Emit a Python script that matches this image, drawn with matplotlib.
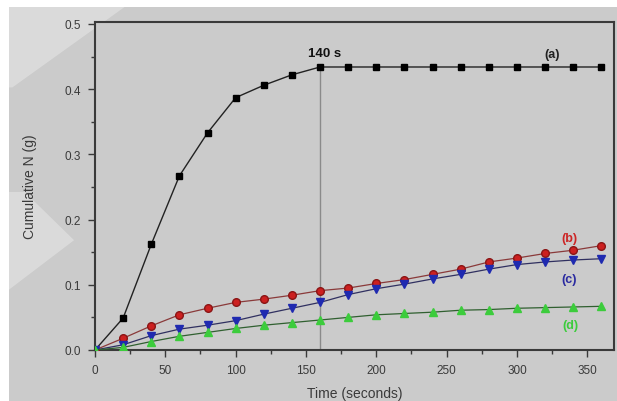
import numpy as np
import matplotlib
matplotlib.use('Agg')
import matplotlib.pyplot as plt
from matplotlib.patches import Polygon, Rectangle

plt.rcParams['font.family'] = ['Liberation Sans', 'DejaVu Sans']

# --- Data ---
time_s = [0, 20, 40, 60, 80, 100, 120, 140, 160, 180, 200, 220, 240, 260, 280, 300, 320, 340, 360]
series_a = [0.000, 0.049, 0.162, 0.267, 0.333, 0.387, 0.406, 0.422, 0.434, 0.434, 0.434, 0.434,
            0.434, 0.434, 0.434, 0.434, 0.434, 0.434, 0.434]
series_b = [0.000, 0.018, 0.037, 0.054, 0.064, 0.073, 0.078, 0.084, 0.091, 0.095, 0.102, 0.108,
            0.116, 0.124, 0.135, 0.141, 0.148, 0.153, 0.160]
series_c = [0.000, 0.008, 0.022, 0.032, 0.038, 0.045, 0.055, 0.064, 0.073, 0.085, 0.094, 0.101,
            0.109, 0.116, 0.124, 0.131, 0.135, 0.138, 0.140]
series_d = [0.000, 0.004, 0.013, 0.021, 0.027, 0.033, 0.038, 0.042, 0.046, 0.050, 0.054, 0.056,
            0.058, 0.061, 0.062, 0.064, 0.065, 0.066, 0.067]
series_labels = ['(a)', '(b)', '(c)', '(d)']
label_pos = [(325, 0.454), (337, 0.172), (337, 0.109), (338, 0.038)]
plateau_time = 160
plateau_text = '140 s'

BG = '#cbcbcb'
TXT = '#3a3a3a'

fig = plt.figure(figsize=(6.17, 4.02), dpi=100, facecolor='white')

# grey page panel behind the chart, with the faint lighter diagonal bands
fig.patches.append(Rectangle((9 / 617, 0), 1, 1 - 8 / 402, transform=fig.transFigure,
                             facecolor=BG, edgecolor='none', zorder=-3))
bands = [
    [(0, 1), (0.22, 1), (0.02, 0.78), (0, 0.78)],
    [(0.56, 1), (0.64, 1), (0.62, 0.98), (0.575, 0.98)],
    [(0, 0.52), (0.04, 0.52), (0.12, 0.40), (0, 0.26)],
]
for b in bands:
    fig.patches.append(Polygon(b, closed=True, transform=fig.transFigure,
                               facecolor='white', edgecolor='none', alpha=0.3, zorder=-2))

ax = fig.add_axes([95 / 617, 51 / 402, 519 / 617, 328 / 402])
ax.set_facecolor(BG)

ax.axvline(plateau_time, ymin=0, ymax=series_a[8] / 0.503, color='#8a8a8a', lw=1.0, zorder=1)

ax.plot(time_s, series_a, color='#222222', lw=1.0, marker='s', ms=5,
        mfc='black', mec='black', zorder=3)
ax.plot(time_s, series_b, color='#8a3a3a', lw=0.9, marker='o', ms=5.5,
        mfc='#cc2020', mec='#8a1515', zorder=3)
ax.plot(time_s, series_c, color='#303060', lw=0.9, marker='v', ms=5.5,
        mfc='#1f2ab0', mec='#1f2ab0', zorder=3)
ax.plot(time_s, series_d, color='#306030', lw=0.9, marker='^', ms=5.5,
        mfc='#3ccc3c', mec='#3ccc3c', zorder=3)

label_colors = ['#222222', '#cc2525', '#2a2aa0', '#3ccc3c']
for lab, (x, y), c in zip(series_labels, label_pos, label_colors):
    ax.text(x, y, lab, color=c, fontsize=9, fontweight='bold', ha='center', va='center')

ax.text(163, 0.455, plateau_text, color='#111111', fontsize=9.5, fontweight='bold',
        ha='center', va='center')

ax.set_xlim(0, 369)
ax.set_ylim(0, 0.503)
ax.set_xticks(np.arange(0, 351, 50))
ax.set_xticks(np.arange(25, 351, 50), minor=True)
ax.set_yticks(np.arange(0, 0.51, 0.1))
ax.set_yticks(np.arange(0.05, 0.5, 0.1), minor=True)
ax.set_yticklabels([f'{v:.1f}' for v in np.arange(0, 0.51, 0.1)])

for sp in ax.spines.values():
    sp.set_color('#3a3a3a')
    sp.set_linewidth(1.5)
ax.tick_params(which='both', direction='out', colors='#3a3a3a', labelcolor=TXT,
               labelsize=8.5, width=1.0)
ax.tick_params(which='major', length=5, pad=5)
ax.tick_params(which='minor', length=3)

ax.set_xlabel('Time (seconds)', fontsize=10, color=TXT, labelpad=7)
ax.set_ylabel('Cumulative N (g)', fontsize=10, color=TXT, labelpad=20)

fig.savefig('out.png', dpi=100, facecolor=fig.get_facecolor())
